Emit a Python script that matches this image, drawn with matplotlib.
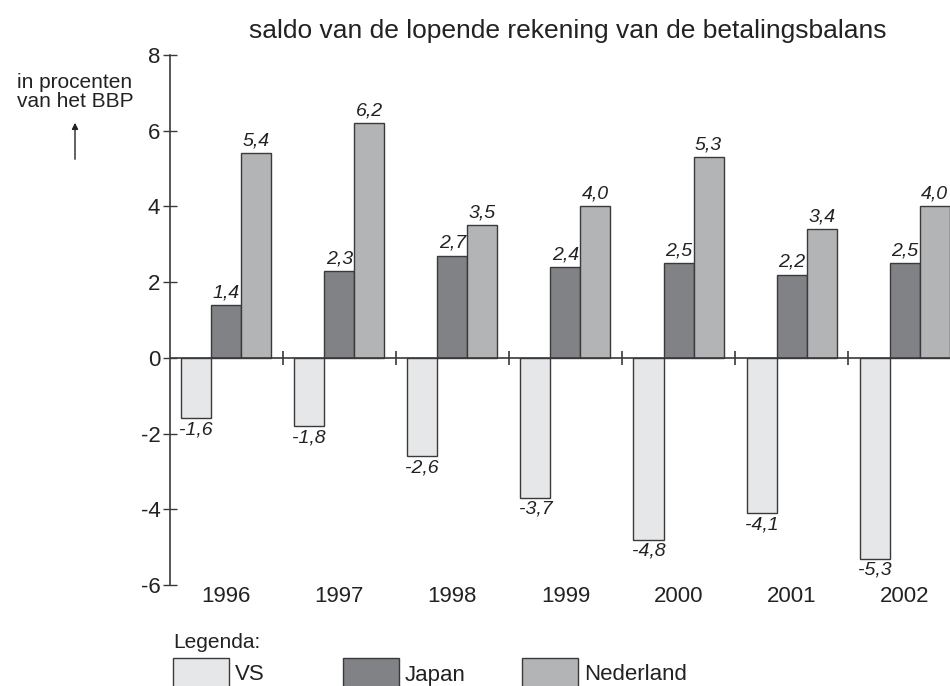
import matplotlib.pyplot as plt
import numpy as np
from matplotlib.patches import Rectangle, FancyArrowPatch

years = ["1996", "1997", "1998", "1999", "2000", "2001", "2002"]
vs = [-1.6, -1.8, -2.6, -3.7, -4.8, -4.1, -5.3]
japan = [1.4, 2.3, 2.7, 2.4, 2.5, 2.2, 2.5]
nederland = [5.4, 6.2, 3.5, 4.0, 5.3, 3.4, 4.0]
series_names = ["VS", "Japan", "Nederland"]

COLORS = {"VS": "#e6e7e8", "Japan": "#808285", "Nederland": "#b3b4b6"}
EDGE = "#3a3a3a"
TXT = "#222222"

plt.rcParams["font.family"] = ["Liberation Sans", "DejaVu Sans"]
plt.rcParams["axes.unicode_minus"] = False

W, H = 950, 686
fig = plt.figure(figsize=(W / 100, H / 100), dpi=100)
ax = fig.add_axes([170 / W, (H - 585) / H, 780 / W, 530 / H])

x = np.arange(len(years))
bw = 0.2655
for offs, name, vals in zip([-bw, 0, bw], series_names, [vs, japan, nederland]):
    ax.bar(x + offs, vals, width=bw, color=COLORS[name], edgecolor=EDGE,
           linewidth=1.0, zorder=2)
    for xi, v in zip(x + offs, vals):
        lab = f"{v:.1f}".replace(".", ",")
        if v >= 0:
            ax.text(xi, v + 0.1, lab, ha="center", va="bottom", fontsize=14,
                    style="italic", color=TXT)
        else:
            ax.text(xi, v - 0.08, lab, ha="center", va="top", fontsize=14,
                    style="italic", color=TXT)

ax.axhline(0, color=EDGE, linewidth=1.2, zorder=3)
ax.vlines(x[:-1] + 0.5, -0.19, 0.19, color=EDGE, linewidth=1.2, zorder=3)

ax.set_xlim(-0.496, 6.40)
ax.set_ylim(-6, 8)
ax.set_yticks(range(-6, 9, 2))
ax.tick_params(axis="y", direction="inout", length=10, width=1.0,
               labelsize=16, pad=2, color=EDGE, labelcolor=TXT)
ax.set_xticks(x)
ax.set_xticklabels(years)
ax.tick_params(axis="x", length=0, labelsize=16, pad=1, labelcolor=TXT)
for s in ["top", "right", "bottom"]:
    ax.spines[s].set_visible(False)
ax.spines["left"].set_color(EDGE)
ax.spines["left"].set_linewidth(1.2)

fig.text(568 / W, 1 - 31 / H, "saldo van de lopende rekening van de betalingsbalans",
         ha="center", va="center", fontsize=19, color=TXT)
fig.text(75 / W, 1 - 92 / H, "in procenten\nvan het BBP", ha="center",
         va="center", fontsize=15, linespacing=1.05, color=TXT)
fig.patches.append(FancyArrowPatch(
    (75 / W, 1 - 162 / H), (75 / W, 1 - 120 / H), transform=fig.transFigure,
    arrowstyle="-|>", mutation_scale=9, color=TXT, linewidth=1.0))

fig.text(173 / W, 1 - 643 / H, "Legenda:", ha="left", va="center", fontsize=15,
         color=TXT)
for name, x0 in zip(series_names, [173, 343, 522]):
    fig.patches.append(Rectangle((x0 / W, -10 / H), 56 / W, 38 / H,
                                 transform=fig.transFigure, facecolor=COLORS[name],
                                 edgecolor=EDGE, linewidth=1.0))
    fig.text((x0 + 62) / W, 1 - 675 / H, name, ha="left", va="center",
             fontsize=16, color=TXT)

fig.savefig("out.png", dpi=100)
